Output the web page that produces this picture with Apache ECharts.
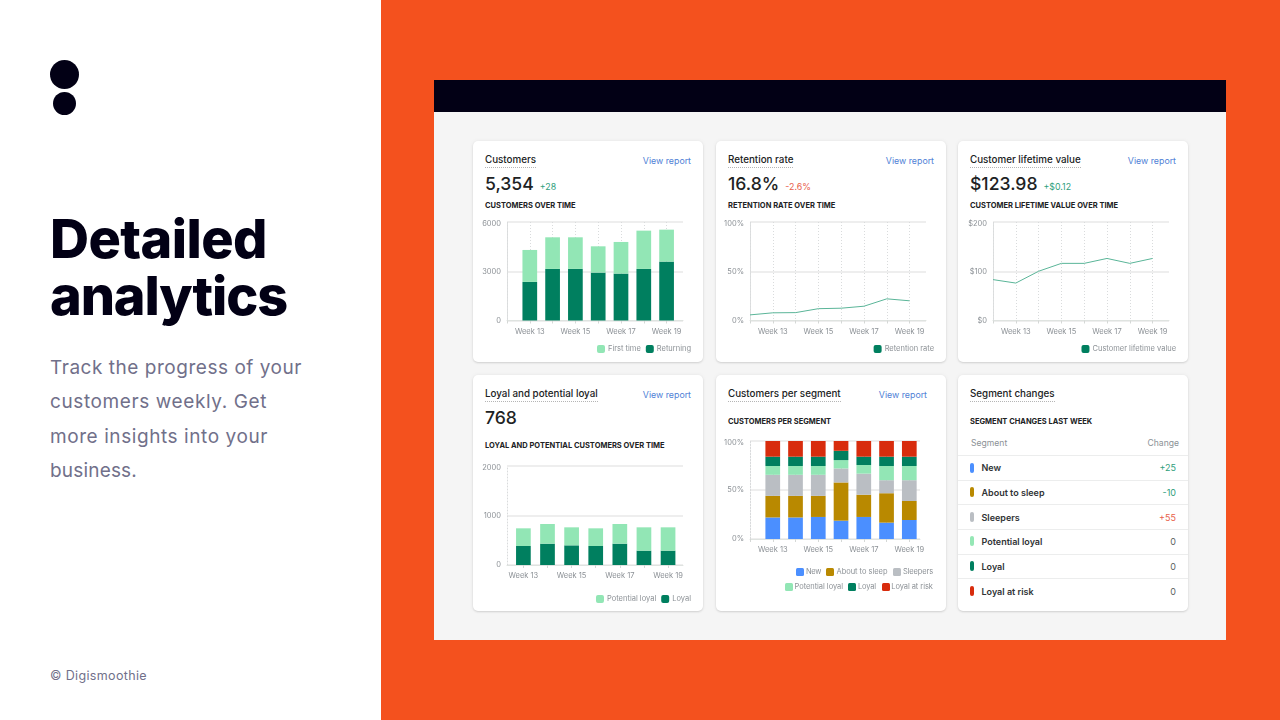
<!DOCTYPE html>
<html><head><meta charset="utf-8">
<style>
html,body{margin:0;padding:0;width:1280px;height:720px;overflow:hidden;background:#fff;font-family:Inter,sans-serif}
.abs,.t,.card,.chart{position:absolute}
.t{white-space:nowrap;line-height:1}
.card{background:#fff;border-radius:5px;box-shadow:0 0 4px rgba(23,24,24,.06),0 1px 2px rgba(0,0,0,.12)}
.title{font-size:9.8px;color:#202223;border-bottom:1px dotted #b5b5b5;padding-bottom:2px;font-weight:500}
</style></head><body>
<div id="root"></div>
<script src="https://cdn.jsdelivr.net/npm/echarts@6/dist/echarts.min.js"></script>
<script>
const weeks=[13,14,15,16,17,18,19];
const lineWeeks=[12,13,14,15,16,17,18,19];
const firstTime=[1946,1926,1926,1600,1926,2331,1946];
const returning=[2351,3142,3142,2919,2858,3142,3588];
const retention=[5.7,7.8,8,12,12.5,14.5,22,20];
const lifetime=[83,76,100,116,116,126,116,126];
const potentialLoyal=[357,397,364,357,397,471,471];
const loyal=[384,431,397,384,431,290,290];
const segNew=[22,22,22.5,18.7,22.5,16.7,19.4];
const segSleep=[22,22,21.5,39,22.7,30,19.4];
const segSleepers=[21.5,21.5,21.5,14.3,21.5,13.3,21.2];
const segPotential=[9,9,9,8.5,8.8,14.5,14.5];
const segLoyal=[9.5,9.5,9.5,9.5,8.5,9.5,9.5];
const segRisk=[16,16,16,10,16,16,16];
const changeNames=['New','About to sleep','Sleepers','Potential loyal','Loyal','Loyal at risk'];
const changeValues=['+25','-10','+55','0','0','0'];
const changeColors=['#4b8fff','#b98900','#babec3','#95e7b5','#007f5f','#d82c0d'];
const changeText=['#2f9e7c','#2f9e7c','#e8604a','#5c5f62','#5c5f62','#5c5f62'];
const labelWeeks=[13,15,17,19];

const root=document.getElementById('root');
function el(cls,style,text,parent){const d=document.createElement('div');d.className=cls;d.style.cssText=style;if(text!=null)d.textContent=text;(parent||root).appendChild(d);return d;}
function txt(x,y,size,color,weight,text,extra){return el('t',`left:${x}px;top:${y}px;font-size:${size}px;color:${color};font-weight:${weight};${extra||''}`,text);}
function fit(e,w){const cur=e.getBoundingClientRect().width;e.style.letterSpacing=((w-cur)/e.textContent.length)+'px';return e;}
el('abs','left:381px;top:0;width:899px;height:720px;background:#f4511e');
el('abs','left:434px;top:80px;width:792px;height:560px;background:#f5f5f5');
el('abs','left:434px;top:80px;width:792px;height:32px;background:#020015');
el('abs','left:50px;top:60px;width:29px;height:29px;border-radius:50%;background:#020015');
el('abs','left:53px;top:92px;width:23px;height:23px;border-radius:50%;background:#020015');
fit(txt(50,212.4,54,'#020015',800,'Detailed'),217);
fit(txt(50,268.7,54,'#020015',800,'analytics'),237);
const para=['Track the progress of your','customers weekly. Get','more insights into your','business.'];
const paraWidths=[252,217,218,87];
para.forEach((p,i)=>fit(txt(50,358+i*34.3,19,'#71708a',400,p),paraWidths[i]));
fit(txt(50,669.5,12.5,'#71708a',400,'© Digismoothie'),97);
function card(x,y,w,h,title,big,delta,deltaColor,linkRight){
 el('card',`left:${x}px;top:${y}px;width:${w}px;height:${h}px`);
 el('t title',`left:${x+12}px;top:${y+14}px`,title);
 if(linkRight!==false) txt(linkRight||x+w-12,y+15.5,8.8,'#4f7fd6',400,'View report','transform:translateX(-100%)');
 if(big){const b=txt(x+12,y+33.5,17.6,'#202223',500,big);
  if(delta){const dx=x+12+b.getBoundingClientRect().width+6;txt(dx,y+42,8.8,deltaColor,400,delta);}}
}
card(473,141,230,221,'Customers','5,354','+28','#2f9e7c');
card(716,141,230,221,'Retention rate','16.8%','-2.6%','#e8604a');
card(958,141,230,221,'Customer lifetime value','$123.98','+$0.12','#2f9e7c');
card(473,375,230,236,'Loyal and potential loyal','768');
card(716,375,230,236,'Customers per segment',null,null,null,927);
card(958,375,230,236,'Segment changes',null,null,null,false);
const subs=[[485,201.5,'CUSTOMERS OVER TIME'],[728,201.5,'RETENTION RATE OVER TIME'],[970,201.5,'CUSTOMER LIFETIME VALUE OVER TIME'],
 [485,441.5,'LOYAL AND POTENTIAL CUSTOMERS OVER TIME'],[728,417.5,'CUSTOMERS PER SEGMENT'],[970,417.5,'SEGMENT CHANGES LAST WEEK']];
subs.forEach(s=>txt(s[0],s[1],7.5,'#202223',650,s[2]));
txt(971,439,8.6,'#8c9196',400,'Segment');
txt(1179,439,8.6,'#8c9196',400,'Change','transform:translateX(-100%)');
changeNames.forEach((n,i)=>{
 const y=455+i*24.65;
 el('abs',`left:958px;width:230px;top:${y}px;height:1px;background:#eceded`);
 el('abs',`left:970.3px;top:${y+7.5}px;width:3.7px;height:10px;border-radius:2px;background:${changeColors[i]}`);
 txt(981.5,y+8.3,9,'#303335',600,n);
 txt(1176,y+8.3,9,changeText[i],400,changeValues[i],'transform:translateX(-100%)');
});
function chart(x,y,w,h,cfg){
 const d=el('chart',`left:${x}px;top:${y}px;width:${w}px;height:${h}px`);
 const c=echarts.init(d,null,{renderer:'canvas'});
 const yf=cfg.yFmt||(v=>String(v));
 c.setOption({animation:false,
  grid:{left:cfg.left,top:cfg.top,width:cfg.width,height:cfg.height},
  legend:Object.assign({show:true,right:12,padding:0,itemWidth:8,itemHeight:8,itemGap:5,icon:'roundRect',
    textStyle:{color:'#8c9196',fontSize:7.5,fontFamily:'Inter',padding:[0,0,0,-2]},selectedMode:false},cfg.legend),
  xAxis:{type:'value',min:cfg.xMin,max:cfg.xMax,
   axisLine:{show:true,onZero:false,lineStyle:{color:'#dfe3e0',width:1}},
   axisTick:{show:true,length:3,customValues:cfg.ticks,lineStyle:{color:'#d5d8d6'}},
   axisLabel:{customValues:labelWeeks,formatter:v=>'Week '+v,margin:7,color:'#8c9196',fontSize:7.5,fontFamily:'Inter',hideOverlap:false},
   splitLine:{show:cfg.vlines!==false,lineStyle:{type:[1,2],color:'#d9dbdc',width:1}}},
  yAxis:{type:'value',min:0,max:cfg.yMax,interval:cfg.yMax/2,
   axisLine:{show:true,lineStyle:{type:[1,2],color:'#d9dbdc'}},axisTick:{show:false},
   axisLabel:{formatter:v=>v===cfg.yMax?'{t|'+yf(v)+'}':yf(v),margin:6,color:'#8c9196',fontSize:7.5,fontFamily:'Inter',
    rich:{t:{padding:[4,0,0,0],color:'#8c9196',fontSize:7.5,fontFamily:'Inter'}}},
   splitLine:{show:true,lineStyle:{color:'#e9e9e9',width:1.5}}},
  series:cfg.series});
}
// value first, week second: ECharts stacks on the first numeric dimension
const pts=(xs,ys)=>xs.map((v,i)=>[ys[i],v]);
const bar=(name,color,vals)=>({type:'bar',name,stack:'s',barWidth:14.7,data:pts(weeks,vals),encode:{x:1,y:0},itemStyle:{color},z:3});
const line=(name,vals)=>({type:'line',name,data:pts(lineWeeks,vals),encode:{x:1,y:0},showSymbol:false,symbol:'none',color:'#007f5f',lineStyle:{color:'#5ab598',width:1},z:3});
const greenIcon={color:'#007f5f'};
chart(473,141,230,221,{left:34,top:81,width:176,height:98.5,xMin:12,xMax:19.72,ticks:lineWeeks,yMax:6000,
 legend:{top:204,data:['First time','Returning']},
 series:[bar('Returning','#007f5f',returning),bar('First time','#92e6b5',firstTime)]});
chart(716,141,230,221,{left:34,top:81,width:176,height:98.5,xMin:12,xMax:19.72,ticks:lineWeeks,yMax:100,yFmt:v=>v+'%',
 legend:{top:204,data:[{name:'Retention rate',icon:'roundRect',itemStyle:greenIcon}]},
 series:[line('Retention rate',retention)]});
chart(958,141,230,221,{left:35,top:81,width:176,height:98.5,xMin:12,xMax:19.72,ticks:lineWeeks,yMax:200,yFmt:v=>'$'+v,
 legend:{top:204,data:[{name:'Customer lifetime value',icon:'roundRect',itemStyle:greenIcon}]},
 series:[line('Customer lifetime value',lifetime)]});
chart(473,375,230,236,{left:34,top:91,width:176,height:99,xMin:12.32,xMax:19.62,ticks:weeks,vlines:false,yMax:2000,
 legend:{top:220,data:['Potential loyal','Loyal']},
 series:[bar('Loyal','#007f5f',loyal),bar('Potential loyal','#92e6b5',potentialLoyal)]});
chart(716,375,230,236,{left:34,top:66,width:170,height:98,xMin:12,xMax:19.47,ticks:lineWeeks,yMax:100,yFmt:v=>v+'%',
 legend:{show:false},
 series:[bar('New','#4b8fff',segNew),bar('About to sleep','#b98900',segSleep),bar('Sleepers','#babec3',segSleepers),
  bar('Potential loyal','#92e6b5',segPotential),bar('Loyal','#007f5f',segLoyal),bar('Loyal at risk','#d82c0d',segRisk)]});
function legendItem(name,color,sx,y,tx,w){
 el('abs',`left:${sx}px;top:${y}px;width:8px;height:8px;border-radius:1.5px;background:${color}`);
 fit(txt(tx,y,7.5,'#8c9196',400,name),w);
}
legendItem('New','#4b8fff',796,568.3,806,15);
legendItem('About to sleep','#b98900',826,568.3,836.5,51);
legendItem('Sleepers','#babec3',893,568.3,903,30);
legendItem('Potential loyal','#92e6b5',784.5,583,794.5,48.5);
legendItem('Loyal','#007f5f',848,583,858,18);
legendItem('Loyal at risk','#d82c0d',881.5,583,891.3,41.5);
</script></body></html>
